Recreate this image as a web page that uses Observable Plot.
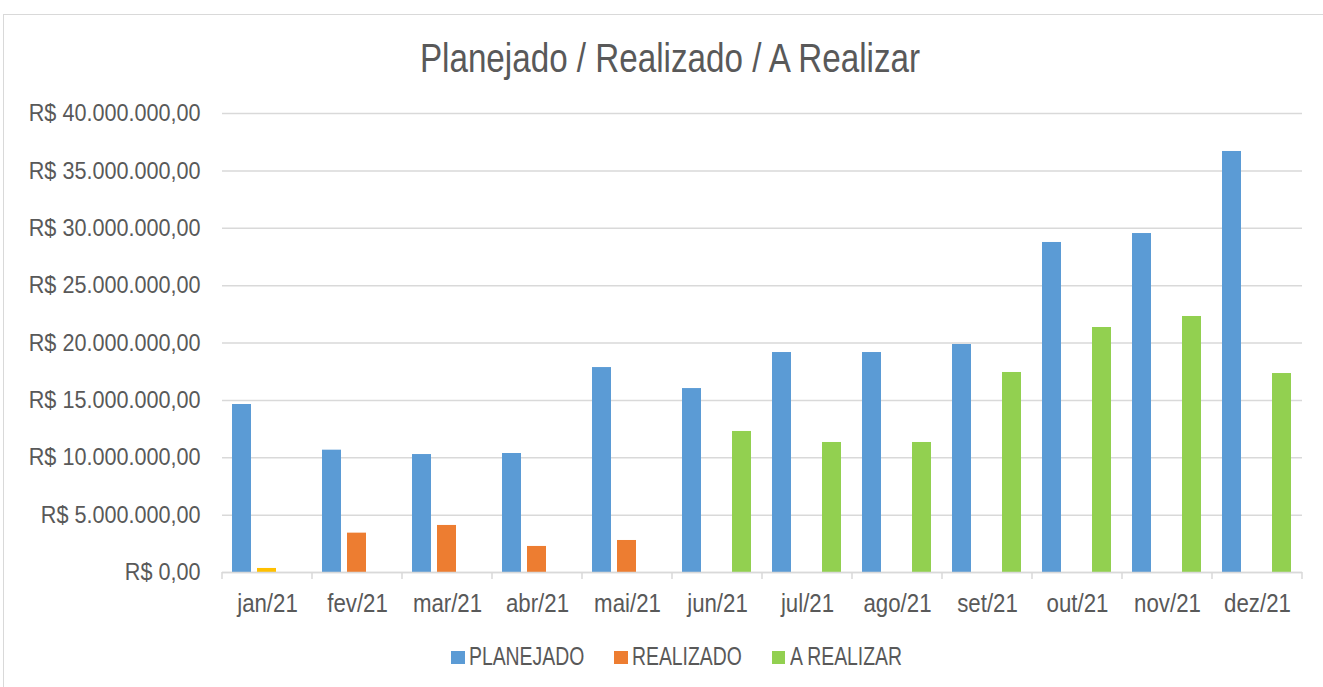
<!DOCTYPE html>
<html>
<head>
<meta charset="utf-8">
<script src="https://cdn.jsdelivr.net/npm/d3@7"></script>
<script src="https://cdn.jsdelivr.net/npm/@observablehq/plot@0.6"></script>
<style>
  html, body { margin: 0; padding: 0; background: #fff; }
  body { font-family: "Liberation Sans", Arial, sans-serif; color: #595959; }
  #wrap { position: relative; width: 1323px; height: 687px; overflow: hidden; }
  #frame { position: absolute; left: 3px; top: 14px; width: 1360px; height: 720px; border: 1.5px solid #d9d9d9; box-sizing: border-box; }
  #title { position: absolute; left: 170px; width: 1000px; top: 35px; text-align: center; font-size: 40px; line-height: 46px; color: #595959; white-space: nowrap; transform: scaleX(0.83); transform-origin: 500px 0; }
  #legend { position: absolute; left: 0; top: 0; width: 1323px; height: 687px; pointer-events: none; }
  #legend .sw { position: absolute; width: 13.5px; height: 13.5px; top: 650.5px; }
  #legend .tx { position: absolute; top: 642px; font-size: 25px; line-height: 28px; color: #595959; white-space: nowrap; transform-origin: 0 0; }
  #chart { position: absolute; left: 0; top: 0; }
</style>
</head>
<body>
<div id="wrap">
  <div id="frame"></div>
  <div id="chart"></div>
  <div id="title">Planejado / Realizado / A Realizar</div>
  <div id="legend"></div>
</div>
<script>
// ---- data ----
const meses = ["jan/21","fev/21","mar/21","abr/21","mai/21","jun/21","jul/21","ago/21","set/21","out/21","nov/21","dez/21"];
const series = ["PLANEJADO","REALIZADO","A REALIZAR"];
const planejado = [14640000, 10660000, 10280000, 10370000, 17860000, 16030000, 19170000, 19170000, 19870000, 28760000, 29540000, 36690000];
const realizado = [350000, 3430000, 4100000, 2270000, 2790000, null, null, null, null, null, null, null];
const aRealizar = [null, null, null, null, null, 12290000, 11330000, 11330000, 17430000, 21350000, 22310000, 17340000];
const cores = ["#5B9BD5", "#ED7D31", "#92D050"];
const destaque = { mes: "jan/21", serie: "REALIZADO", cor: "#FFC000" };
const yTicks = [0, 5e6, 10e6, 15e6, 20e6, 25e6, 30e6, 35e6, 40e6];

// ---- table ----
const valores = [planejado, realizado, aRealizar];
const dados = [];
meses.forEach((m, i) => {
  series.forEach((s, j) => {
    const v = valores[j][i];
    if (v != null) dados.push({ mes: m, serie: s, valor: v });
  });
});
const dadosDestaque = dados.filter(d => d.mes === destaque.mes && d.serie === destaque.serie);

const brl = d3.formatLocale({ decimal: ",", thousands: ".", grouping: [3], currency: ["R$ ", ""] }).format("$,.2f");
const font = '"Liberation Sans", Arial, sans-serif';

const plot = Plot.plot({
  width: 1323,
  height: 687,
  marginTop: 113,
  marginBottom: 115,
  marginLeft: 219,
  marginRight: 18,
  style: { fontFamily: font, fontSize: "24px", color: "#595959", background: "transparent", overflow: "visible" },
  fx: { domain: meses, padding: 0, label: null },
  x: { domain: series, paddingInner: 6 / 26, paddingOuter: 0.356, axis: null },
  y: { domain: [0, 40e6], label: null },
  color: { domain: series, range: cores },
  marks: [
    Plot.gridY(yTicks, { stroke: "#d9d9d9", strokeOpacity: 1, strokeWidth: 1.5 }),
    Plot.axisY(yTicks, { anchor: "left", tickSize: 0, tickPadding: 22, tickFormat: brl, fill: "#595959", fontSize: 24, label: null }),
    Plot.axisFx({ anchor: "bottom", tickSize: 0, tickPadding: 22, fill: "#595959", fontSize: 25, label: null }),
    Plot.barY(dados, { fx: "mes", x: "serie", y: "valor", fill: "serie" }),
    Plot.barY(dadosDestaque, { fx: "mes", x: "serie", y: "valor", fill: destaque.cor }),
    Plot.ruleY([0], { stroke: "#d9d9d9", strokeWidth: 1.5 })
  ]
});

document.getElementById("chart").appendChild(plot);

// condense axis label glyphs horizontally (narrow face look), around each label's anchor
function condense(selector, s) {
  d3.select(plot).selectAll(selector).each(function () {
    const el = d3.select(this);
    const x = +el.attr("x") || 0, y = +el.attr("y") || 0;
    const t = el.attr("transform") || "";
    el.attr("transform", `${t} translate(${x},${y}) scale(${s},1) translate(${-x},${-y})`);
  });
}
condense('g[aria-label="y-axis tick label"] text', 0.9);
condense('g[aria-label="fx-axis tick label"] text', 0.89);

// category boundary ticks on the x axis, from the fx scale
const fx = plot.scale("fx");
const yS = plot.scale("y");
const y0 = yS.apply(0);
const bounds = meses.map(m => fx.apply(m)).concat([fx.apply(meses[meses.length - 1]) + fx.bandwidth]);
d3.select(plot).append("g")
  .selectAll("line").data(bounds).join("line")
  .attr("x1", d => d).attr("x2", d => d)
  .attr("y1", y0).attr("y2", y0 + 7)
  .attr("stroke", "#d9d9d9").attr("stroke-width", 1.5);

// legend, laid out left to right
const leg = document.getElementById("legend");
const legScale = 0.775;
let cx = 451;
series.forEach((s, i) => {
  const sw = document.createElement("div");
  sw.className = "sw";
  sw.style.left = cx + "px";
  sw.style.background = cores[i];
  leg.appendChild(sw);
  cx += 18.3;
  const tx = document.createElement("div");
  tx.className = "tx";
  tx.textContent = s;
  tx.style.left = cx + "px";
  tx.style.transform = `scaleX(${legScale})`;
  leg.appendChild(tx);
  cx += tx.getBoundingClientRect().width + 29.5;
});
</script>
</body>
</html>
